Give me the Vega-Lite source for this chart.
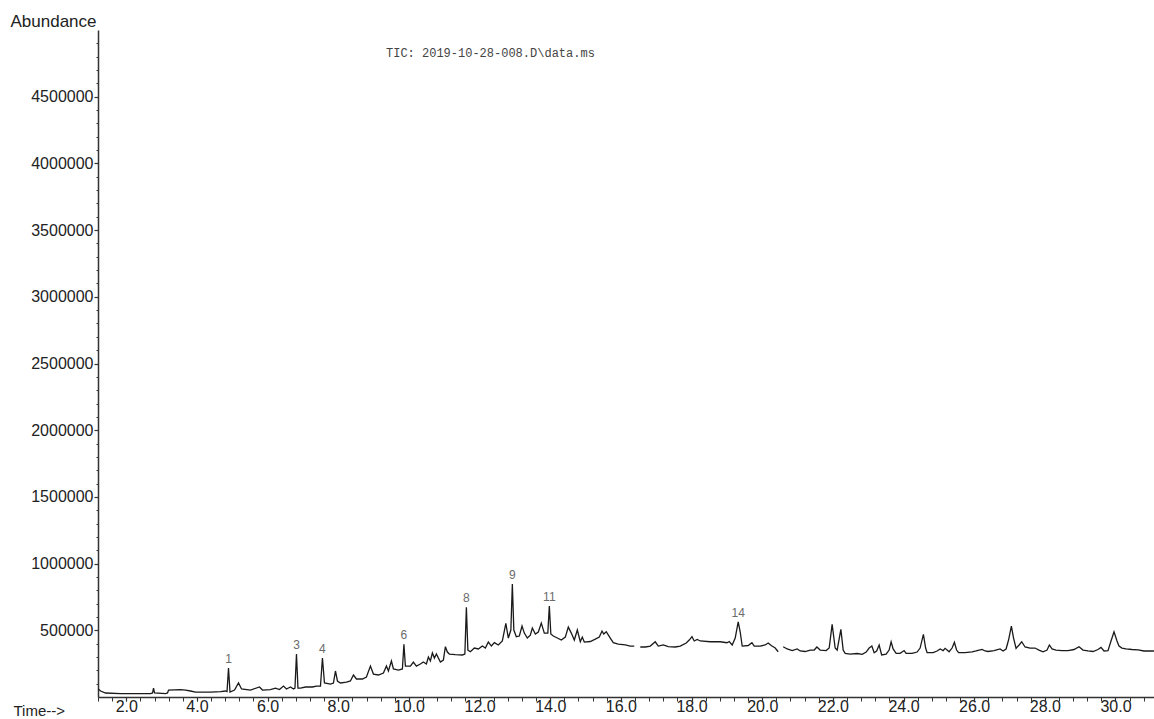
{
  "$schema": "https://vega.github.io/schema/vega-lite/v6.json",
  "autosize": {"type": "none"},
  "width": 1056,
  "height": 667,
  "padding": {"left": 98, "top": 30, "right": 0, "bottom": 22},
  "background": "#ffffff",
  "config": {
    "view": {"stroke": null},
    "font": "Liberation Sans",
    "axis": {"grid": false, "labelFont": "Liberation Sans", "titleFont": "Liberation Sans", "labelColor": "#222222", "titleColor": "#222222", "domainColor": "#333333", "tickColor": "#333333", "labelOverlap": false, "labelFlush": false}
  },
  "title": {"text": "TIC: 2019-10-28-008.D\\data.ms", "anchor": "start", "frame": "group", "dx": 288, "dy": 53, "offset": 0, "baseline": "middle", "font": "Liberation Mono", "fontSize": 12, "fontWeight": "normal", "color": "#444444"},
  "datasets": {
    "trace": [
      {"t":1.208,"a":60000,"s":1},{"t":1.273,"a":45000,"s":1},{"t":1.414,"a":30000,"s":1},{"t":1.839,"a":26000,"s":1},{"t":2.405,"a":26000,"s":1},{"t":2.687,"a":26000,"s":1},{"t":2.744,"a":30000,"s":1},{"t":2.772,"a":67000,"s":1},{"t":2.801,"a":30000,"s":1},{"t":3.112,"a":26000,"s":1},{"t":3.168,"a":30000,"s":1},{"t":3.197,"a":52000,"s":1},{"t":3.536,"a":56000,"s":1},{"t":3.678,"a":52000,"s":1},{"t":3.819,"a":45000,"s":1},{"t":3.96,"a":37000,"s":1},{"t":4.385,"a":37000,"s":1},{"t":4.668,"a":41000,"s":1},{"t":4.809,"a":45000,"s":1},{"t":4.852,"a":41000,"s":1},{"t":4.894,"a":217000,"s":1},{"t":4.936,"a":37000,"s":1},{"t":5.064,"a":52000,"s":1},{"t":5.177,"a":105000,"s":1},{"t":5.262,"a":60000,"s":1},{"t":5.516,"a":52000,"s":1},{"t":5.771,"a":75000,"s":1},{"t":5.856,"a":52000,"s":1},{"t":6.082,"a":56000,"s":1},{"t":6.224,"a":67000,"s":1},{"t":6.337,"a":56000,"s":1},{"t":6.45,"a":82000,"s":1},{"t":6.535,"a":60000,"s":1},{"t":6.648,"a":75000,"s":1},{"t":6.733,"a":60000,"s":1},{"t":6.775,"a":67000,"s":1},{"t":6.818,"a":322000,"s":1},{"t":6.86,"a":67000,"s":1},{"t":6.931,"a":67000,"s":1},{"t":7.072,"a":75000,"s":1},{"t":7.27,"a":75000,"s":1},{"t":7.383,"a":82000,"s":1},{"t":7.497,"a":82000,"s":1},{"t":7.553,"a":292000,"s":1},{"t":7.61,"a":105000,"s":1},{"t":7.779,"a":97000,"s":1},{"t":7.864,"a":105000,"s":1},{"t":7.921,"a":195000,"s":1},{"t":7.977,"a":120000,"s":1},{"t":8.062,"a":105000,"s":1},{"t":8.232,"a":112000,"s":1},{"t":8.345,"a":120000,"s":1},{"t":8.43,"a":165000,"s":1},{"t":8.515,"a":135000,"s":1},{"t":8.685,"a":135000,"s":1},{"t":8.798,"a":150000,"s":1},{"t":8.911,"a":232000,"s":1},{"t":8.996,"a":172000,"s":1},{"t":9.137,"a":165000,"s":1},{"t":9.279,"a":180000,"s":1},{"t":9.364,"a":232000,"s":1},{"t":9.42,"a":195000,"s":1},{"t":9.505,"a":270000,"s":1},{"t":9.562,"a":210000,"s":1},{"t":9.703,"a":202000,"s":1},{"t":9.816,"a":210000,"s":1},{"t":9.859,"a":395000,"s":1},{"t":9.901,"a":232000,"s":1},{"t":10.043,"a":232000,"s":1},{"t":10.127,"a":262000,"s":1},{"t":10.212,"a":232000,"s":1},{"t":10.325,"a":247000,"s":1},{"t":10.41,"a":262000,"s":1},{"t":10.495,"a":247000,"s":1},{"t":10.552,"a":300000,"s":1},{"t":10.608,"a":270000,"s":1},{"t":10.665,"a":330000,"s":1},{"t":10.722,"a":292000,"s":1},{"t":10.778,"a":322000,"s":1},{"t":10.891,"a":262000,"s":1},{"t":10.976,"a":277000,"s":1},{"t":11.033,"a":377000,"s":1},{"t":11.089,"a":337000,"s":1},{"t":11.146,"a":322000,"s":1},{"t":11.316,"a":318000,"s":1},{"t":11.514,"a":315000,"s":1},{"t":11.584,"a":322000,"s":1},{"t":11.627,"a":672000,"s":1},{"t":11.669,"a":352000,"s":1},{"t":11.74,"a":339000,"s":1},{"t":11.853,"a":367000,"s":1},{"t":11.966,"a":360000,"s":1},{"t":12.079,"a":382000,"s":1},{"t":12.164,"a":367000,"s":1},{"t":12.249,"a":412000,"s":1},{"t":12.334,"a":382000,"s":1},{"t":12.419,"a":408000,"s":1},{"t":12.532,"a":390000,"s":1},{"t":12.645,"a":420000,"s":1},{"t":12.744,"a":552000,"s":1},{"t":12.815,"a":442000,"s":1},{"t":12.886,"a":502000,"s":1},{"t":12.928,"a":846000,"s":1},{"t":12.97,"a":502000,"s":1},{"t":13.041,"a":452000,"s":1},{"t":13.126,"a":457000,"s":1},{"t":13.202,"a":532000,"s":1},{"t":13.267,"a":479000,"s":1},{"t":13.352,"a":442000,"s":1},{"t":13.437,"a":464000,"s":1},{"t":13.494,"a":517000,"s":1},{"t":13.579,"a":472000,"s":1},{"t":13.663,"a":487000,"s":1},{"t":13.748,"a":554000,"s":1},{"t":13.833,"a":479000,"s":1},{"t":13.932,"a":479000,"s":1},{"t":13.975,"a":682000,"s":1},{"t":14.017,"a":472000,"s":1},{"t":14.088,"a":457000,"s":1},{"t":14.201,"a":442000,"s":1},{"t":14.314,"a":427000,"s":1},{"t":14.427,"a":449000,"s":1},{"t":14.512,"a":524000,"s":1},{"t":14.597,"a":479000,"s":1},{"t":14.682,"a":427000,"s":1},{"t":14.767,"a":502000,"s":1},{"t":14.852,"a":414000,"s":1},{"t":14.908,"a":449000,"s":1},{"t":14.965,"a":412000,"s":1},{"t":15.134,"a":416000,"s":1},{"t":15.276,"a":434000,"s":1},{"t":15.389,"a":449000,"s":1},{"t":15.466,"a":494000,"s":1},{"t":15.516,"a":472000,"s":1},{"t":15.587,"a":489000,"s":1},{"t":15.7,"a":442000,"s":1},{"t":15.785,"a":407000,"s":1},{"t":15.927,"a":397000,"s":1},{"t":16.125,"a":390000,"s":1},{"t":16.266,"a":382000,"s":1},{"t":16.379,"a":382000,"s":1},
      {"t":16.549,"a":375000,"s":2},{"t":16.691,"a":375000,"s":2},{"t":16.832,"a":382000,"s":2},{"t":16.973,"a":414000,"s":2},{"t":17.058,"a":382000,"s":2},{"t":17.2,"a":390000,"s":2},{"t":17.341,"a":378000,"s":2},{"t":17.539,"a":375000,"s":2},{"t":17.681,"a":382000,"s":2},{"t":17.85,"a":405000,"s":2},{"t":17.935,"a":427000,"s":2},{"t":18.012,"a":452000,"s":2},{"t":18.077,"a":420000,"s":2},{"t":18.161,"a":431000,"s":2},{"t":18.246,"a":420000,"s":2},{"t":18.529,"a":414000,"s":2},{"t":18.812,"a":414000,"s":2},{"t":19.002,"a":407000,"s":2},{"t":19.067,"a":416000,"s":2},{"t":19.151,"a":390000,"s":2},{"t":19.236,"a":442000,"s":2},{"t":19.321,"a":564000,"s":2},{"t":19.378,"a":487000,"s":2},{"t":19.434,"a":382000,"s":2},{"t":19.604,"a":386000,"s":2},{"t":19.709,"a":407000,"s":2},{"t":19.774,"a":382000,"s":2},{"t":19.944,"a":382000,"s":2},{"t":20.085,"a":390000,"s":2},{"t":20.17,"a":405000,"s":2},{"t":20.255,"a":386000,"s":2},{"t":20.368,"a":367000,"s":2},{"t":20.453,"a":339000,"s":2},
      {"t":20.594,"a":377000,"s":3},{"t":20.708,"a":360000,"s":3},{"t":20.849,"a":348000,"s":3},{"t":20.99,"a":360000,"s":3},{"t":21.075,"a":345000,"s":3},{"t":21.217,"a":341000,"s":3},{"t":21.358,"a":352000,"s":3},{"t":21.471,"a":352000,"s":3},{"t":21.548,"a":375000,"s":3},{"t":21.641,"a":352000,"s":3},{"t":21.811,"a":348000,"s":3},{"t":21.896,"a":367000,"s":3},{"t":21.98,"a":545000,"s":3},{"t":22.065,"a":367000,"s":3},{"t":22.122,"a":352000,"s":3},{"t":22.227,"a":507000,"s":3},{"t":22.292,"a":352000,"s":3},{"t":22.349,"a":327000,"s":3},{"t":22.49,"a":322000,"s":3},{"t":22.688,"a":326000,"s":3},{"t":22.83,"a":320000,"s":3},{"t":22.943,"a":337000,"s":3},{"t":23.027,"a":367000,"s":3},{"t":23.104,"a":382000,"s":3},{"t":23.169,"a":332000,"s":3},{"t":23.239,"a":345000,"s":3},{"t":23.31,"a":390000,"s":3},{"t":23.381,"a":315000,"s":3},{"t":23.508,"a":322000,"s":3},{"t":23.593,"a":352000,"s":3},{"t":23.649,"a":414000,"s":3},{"t":23.706,"a":360000,"s":3},{"t":23.791,"a":327000,"s":3},{"t":23.904,"a":327000,"s":3},{"t":24.017,"a":348000,"s":3},{"t":24.074,"a":327000,"s":3},{"t":24.244,"a":327000,"s":3},{"t":24.385,"a":337000,"s":3},{"t":24.47,"a":367000,"s":3},{"t":24.563,"a":470000,"s":3},{"t":24.626,"a":367000,"s":3},{"t":24.668,"a":332000,"s":3},{"t":24.838,"a":332000,"s":3},{"t":24.951,"a":345000,"s":3},{"t":25.036,"a":360000,"s":3},{"t":25.121,"a":348000,"s":3},{"t":25.177,"a":365000,"s":3},{"t":25.29,"a":339000,"s":3},{"t":25.375,"a":367000,"s":3},{"t":25.44,"a":410000,"s":3},{"t":25.502,"a":352000,"s":3},{"t":25.559,"a":332000,"s":3},{"t":25.743,"a":333000,"s":3},{"t":25.941,"a":339000,"s":3},{"t":26.054,"a":345000,"s":3},{"t":26.224,"a":357000,"s":3},{"t":26.309,"a":345000,"s":3},{"t":26.394,"a":341000,"s":3},{"t":26.563,"a":348000,"s":3},{"t":26.733,"a":360000,"s":3},{"t":26.818,"a":345000,"s":3},{"t":26.903,"a":360000,"s":3},{"t":26.973,"a":427000,"s":3},{"t":27.053,"a":532000,"s":3},{"t":27.115,"a":442000,"s":3},{"t":27.186,"a":365000,"s":3},{"t":27.271,"a":390000,"s":3},{"t":27.347,"a":414000,"s":3},{"t":27.44,"a":375000,"s":3},{"t":27.582,"a":367000,"s":3},{"t":27.723,"a":367000,"s":3},{"t":27.836,"a":352000,"s":3},{"t":27.949,"a":339000,"s":3},{"t":28.063,"a":352000,"s":3},{"t":28.128,"a":390000,"s":3},{"t":28.204,"a":360000,"s":3},{"t":28.317,"a":352000,"s":3},{"t":28.487,"a":348000,"s":3},{"t":28.657,"a":347000,"s":3},{"t":28.826,"a":356000,"s":3},{"t":28.968,"a":377000,"s":3},{"t":29.081,"a":352000,"s":3},{"t":29.222,"a":345000,"s":3},{"t":29.364,"a":341000,"s":3},{"t":29.505,"a":356000,"s":3},{"t":29.59,"a":372000,"s":3},{"t":29.675,"a":345000,"s":3},{"t":29.788,"a":348000,"s":3},{"t":29.873,"a":420000,"s":3},{"t":29.958,"a":489000,"s":3},{"t":30.043,"a":420000,"s":3},{"t":30.099,"a":382000,"s":3},{"t":30.184,"a":367000,"s":3},{"t":30.297,"a":360000,"s":3},{"t":30.467,"a":356000,"s":3},{"t":30.637,"a":353000,"s":3},{"t":30.807,"a":345000,"s":3},{"t":30.976,"a":345000,"s":3},{"t":31.089,"a":345000,"s":3}
    ],
    "peaks": [
      {"n":"1","t":4.894,"a":217000},{"n":"3","t":6.818,"a":322000},{"n":"4","t":7.553,"a":292000},{"n":"6","t":9.859,"a":395000},{"n":"8","t":11.627,"a":672000},{"n":"9","t":12.928,"a":846000},{"n":"11","t":13.975,"a":682000},{"n":"14","t":19.321,"a":564000}
    ]
  },
  "layer": [
    {
      "data": {"name": "trace"},
      "mark": {"type": "line", "color": "#1a1a1a", "strokeWidth": 1.3, "interpolate": "linear", "clip": true},
      "encoding": {
        "x": {"field": "t", "type": "quantitative", "scale": {"domain": [1.2, 31.09], "nice": false, "zero": false},
          "axis": {"orient": "bottom", "values": [2,4,6,8,10,12,14,16,18,20,22,24,26,28,30], "format": ".1f", "labelFontSize": 16, "labelPadding": -3, "tickSize": 4, "domainWidth": 1.5, "tickWidth": 1.2,
            "title": "Time-->", "titleFontSize": 15, "titleFontWeight": "normal", "titleAngle": 0, "titleAlign": "left", "titleBaseline": "middle", "titleX": -85, "titleY": 13}},
        "y": {"field": "a", "type": "quantitative", "scale": {"domain": [0, 5000000], "nice": false, "zero": true},
          "axis": {"orient": "left", "values": [500000,1000000,1500000,2000000,2500000,3000000,3500000,4000000,4500000], "format": "d", "labelFontSize": 16, "labelPadding": 1, "tickSize": 4, "domainWidth": 1.5, "tickWidth": 1.2,
            "title": "Abundance", "titleFontSize": 17, "titleFontWeight": "normal", "titleAngle": 0, "titleAlign": "left", "titleBaseline": "middle", "titleX": -88, "titleY": -9}},
        "detail": {"field": "s", "type": "nominal"}
      }
    },
    {
      "data": {"name": "peaks"},
      "mark": {"type": "text", "dy": -9, "baseline": "middle", "align": "center", "fontSize": 12, "font": "Liberation Sans", "fill": "#6a6a6a"},
      "encoding": {
        "x": {"field": "t", "type": "quantitative",
          "axis": {"orient": "bottom", "values": [1.2,1.6,2,2.4,2.8,3.2,3.6,4,4.4,4.8,5.2,5.6,6,6.4,6.8,7.2,7.6,8,8.4,8.8,9.2,9.6,10,10.4,10.8,11.2,11.6,12,12.4,12.8,13.2,13.6,14,14.4,14.8,15.2,15.6,16,16.4,16.8,17.2,17.6,18,18.4,18.8,19.2,19.6,20,20.4,20.8,21.2,21.6,22,22.4,22.8,23.2,23.6,24,24.4,24.8,25.2,25.6,26,26.4,26.8,27.2,27.6,28,28.4,28.8,29.2,29.6,30,30.4,30.8], "labels": false, "domain": false, "title": null, "tickSize": 4, "tickWidth": 1}},
        "y": {"field": "a", "type": "quantitative",
          "axis": {"orient": "left", "values": [100000,200000,300000,400000,600000,700000,800000,900000,1100000,1200000,1300000,1400000,1600000,1700000,1800000,1900000,2100000,2200000,2300000,2400000,2600000,2700000,2800000,2900000,3100000,3200000,3300000,3400000,3600000,3700000,3800000,3900000,4100000,4200000,4300000,4400000,4600000,4700000,4800000,4900000], "labels": false, "domain": false, "title": null, "tickSize": 2, "tickWidth": 1}},
        "text": {"field": "n", "type": "nominal"}
      }
    }
  ],
  "resolve": {"axis": {"x": "independent", "y": "independent"}}
}
